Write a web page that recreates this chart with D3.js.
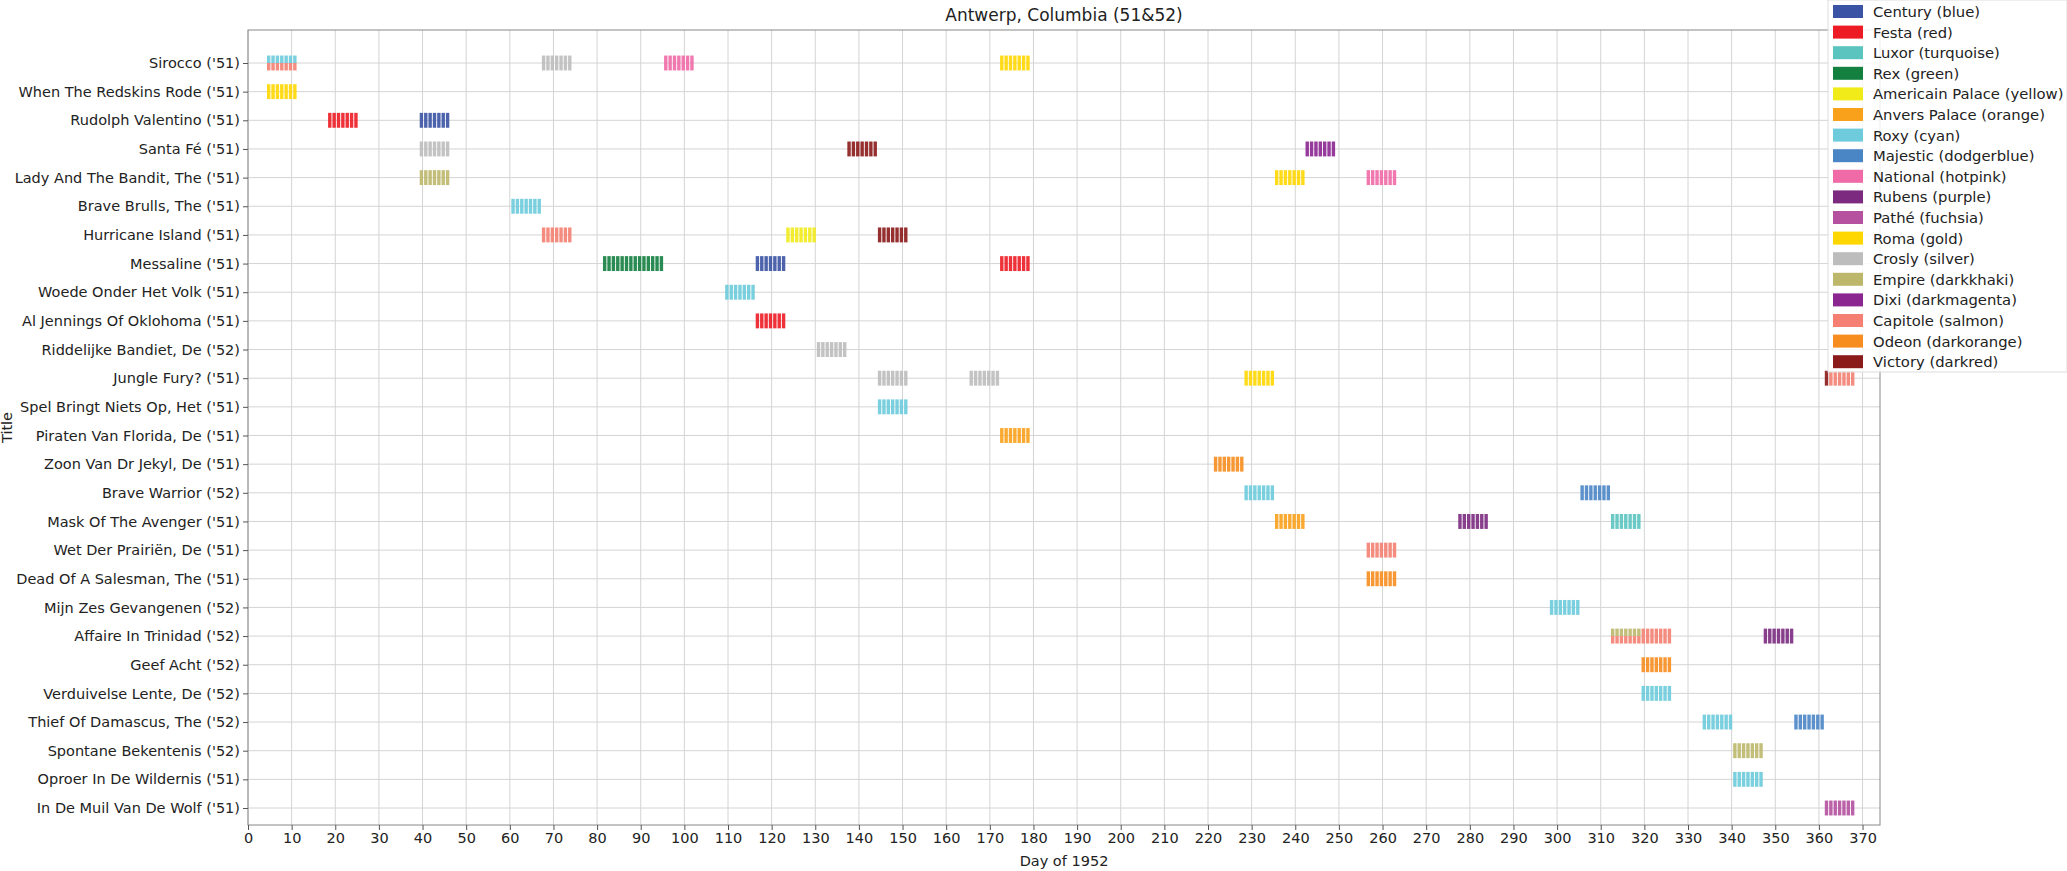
<!DOCTYPE html>
<html>
<head>
<meta charset="utf-8">
<script src="https://cdn.jsdelivr.net/npm/d3@7"></script>
<style>
  body { margin: 0; background: #fff; }
  text { font-family: "DejaVu Sans", sans-serif; }
</style>
</head>
<body>
<svg id="chart" width="2067" height="871"></svg>
<script>
// Cinemas in legend order
const cinemas = ["Century", "Festa", "Luxor", "Rex", "Americain Palace", "Anvers Palace", "Roxy",
  "Majestic", "National", "Rubens", "Pathé", "Roma", "Crosly", "Empire", "Dixi", "Capitole", "Odeon", "Victory"];
const colorNames = ["blue", "red", "turquoise", "green", "yellow", "orange", "cyan", "dodgerblue", "hotpink",
  "purple", "fuchsia", "gold", "silver", "darkkhaki", "darkmagenta", "salmon", "darkorange", "darkred"];
const colors = ["#3a53a4", "#ed1c24", "#5bc4bf", "#138040", "#f2eb1a", "#f9a11b", "#6dcbdc", "#4a85c6", "#ef6aa6",
  "#7b2a7f", "#b5519e", "#ffd700", "#bdbdbd", "#bdb76b", "#8b2590", "#f47f72", "#f78d1e", "#8b1a1a"];

const titles = ["Sirocco ('51)", "When The Redskins Rode ('51)", "Rudolph Valentino ('51)", "Santa Fé ('51)",
  "Lady And The Bandit, The ('51)", "Brave Brulls, The ('51)", "Hurricane Island ('51)", "Messaline ('51)",
  "Woede Onder Het Volk ('51)", "Al Jennings Of Oklohoma ('51)", "Riddelijke Bandiet, De ('52)",
  "Jungle Fury? ('51)", "Spel Bringt Niets Op, Het ('51)", "Piraten Van Florida, De ('51)",
  "Zoon Van Dr Jekyl, De ('51)", "Brave Warrior ('52)", "Mask Of The Avenger ('51)", "Wet Der Prairiën, De ('51)",
  "Dead Of A Salesman, The ('51)", "Mijn Zes Gevangenen ('52)", "Affaire In Trinidad ('52)", "Geef Acht ('52)",
  "Verduivelse Lente, De ('52)", "Thief Of Damascus, The ('52)", "Spontane Bekentenis ('52)",
  "Oproer In De Wildernis ('51)", "In De Muil Van De Wolf ('51)"];

// [title index, cinema, first day, number of days]
const screenings = [
  [0, "Roxy", 4, 7], [0, "Capitole", 4, 7], [0, "Crosly", 67, 7], [0, "National", 95, 7], [0, "Roma", 172, 7],
  [1, "Roma", 4, 7],
  [2, "Festa", 18, 7], [2, "Century", 39, 7],
  [3, "Crosly", 39, 7], [3, "Victory", 137, 7], [3, "Dixi", 242, 7],
  [4, "Empire", 39, 7], [4, "Roma", 235, 7], [4, "National", 256, 7],
  [5, "Roxy", 60, 7],
  [6, "Capitole", 67, 7], [6, "Americain Palace", 123, 7], [6, "Victory", 144, 7],
  [7, "Rex", 81, 14], [7, "Century", 116, 7], [7, "Festa", 172, 7],
  [8, "Roxy", 109, 7],
  [9, "Festa", 116, 7],
  [10, "Crosly", 130, 7],
  [11, "Crosly", 144, 7], [11, "Crosly", 165, 7], [11, "Roma", 228, 7], [11, "Victory", 361, 1], [11, "Capitole", 362, 6],
  [12, "Roxy", 144, 7],
  [13, "Anvers Palace", 172, 7],
  [14, "Odeon", 221, 7],
  [15, "Roxy", 228, 7], [15, "Majestic", 305, 7],
  [16, "Anvers Palace", 235, 7], [16, "Rubens", 277, 7], [16, "Luxor", 312, 7],
  [17, "Capitole", 256, 7],
  [18, "Odeon", 256, 7],
  [19, "Roxy", 298, 7],
  [20, "Empire", 312, 7], [20, "Capitole", 312, 14], [20, "Rubens", 347, 7],
  [21, "Odeon", 319, 7],
  [22, "Roxy", 319, 7],
  [23, "Roxy", 333, 7], [23, "Majestic", 354, 7],
  [24, "Empire", 340, 7],
  [25, "Roxy", 340, 7],
  [26, "Pathé", 361, 7]
];
const xTicks = d3.range(0, 371, 10);

const svg = d3.select("#chart");
const mLeft = 248, mRight = 1880, mTop = 30, mBottom = 825;
const x = d3.scaleLinear().domain([0, 374]).range([mLeft, mRight]);
const y = d3.scalePoint().domain(d3.range(titles.length)).range([63, 808]);
const step = y.step();
const barH = step * 0.52;

// grid
svg.append("g").selectAll("line").data(xTicks).join("line")
  .attr("x1", d => x(d)).attr("x2", d => x(d)).attr("y1", mTop).attr("y2", mBottom)
  .attr("stroke", "#d4d4d4").attr("stroke-width", 1);
svg.append("g").selectAll("line").data(d3.range(titles.length)).join("line")
  .attr("x1", mLeft).attr("x2", mRight).attr("y1", d => y(d)).attr("y2", d => y(d))
  .attr("stroke", "#d4d4d4").attr("stroke-width", 1);

// expand screenings into days; split height when cinemas overlap on a day
const byCell = d3.group(screenings.flatMap(([t, c, s, n]) => d3.range(n).map(k => ({ t, c, d: s + k }))),
  d => d.t + "|" + d.d);
const bars = [];
byCell.forEach(list => {
  list.sort((a, b) => cinemas.indexOf(a.c) - cinemas.indexOf(b.c));
  list.forEach((b, i) => bars.push({ ...b, i, n: list.length }));
});
svg.append("g").selectAll("rect").data(bars).join("rect")
  .attr("x", d => x(d.d + 0.35))
  .attr("width", x(0.78) - x(0))
  .attr("y", d => y(d.t) - barH / 2 + d.i * barH / d.n)
  .attr("height", d => barH / d.n)
  .attr("fill", d => colors[cinemas.indexOf(d.c)])
  .attr("opacity", 0.9);

// frame
svg.append("rect").attr("x", mLeft).attr("y", mTop).attr("width", mRight - mLeft).attr("height", mBottom - mTop)
  .attr("fill", "none").attr("stroke", "#888").attr("stroke-width", 1);

// axes
const xa = svg.append("g").attr("transform", `translate(0,${mBottom})`)
  .call(d3.axisBottom(x).tickValues(xTicks).tickSize(5).tickFormat(d3.format("d")));
xa.select(".domain").remove();
xa.selectAll("text").attr("font-size", 14.5).attr("fill", "#222").attr("font-family", "DejaVu Sans");
xa.selectAll("line").attr("stroke", "#555");
const ya = svg.append("g").attr("transform", `translate(${mLeft},0)`)
  .call(d3.axisLeft(y).tickSize(5).tickFormat(i => titles[i]));
ya.select(".domain").remove();
ya.selectAll("text").attr("font-size", 14.5).attr("fill", "#222").attr("font-family", "DejaVu Sans");
ya.selectAll("line").attr("stroke", "#555");

svg.append("text").attr("x", (mLeft + mRight) / 2).attr("y", 21).attr("text-anchor", "middle")
  .attr("font-size", 17).attr("fill", "#222").text("Antwerp, Columbia (51&52)");
svg.append("text").attr("x", (mLeft + mRight) / 2).attr("y", 866).attr("text-anchor", "middle")
  .attr("font-size", 14.5).attr("fill", "#222").text("Day of 1952");
svg.append("text").attr("transform", `translate(12,${(mTop + mBottom) / 2}) rotate(-90)`)
  .attr("text-anchor", "middle").attr("font-size", 14.5).attr("fill", "#222").text("Title");

// legend
const lg = svg.append("g");
lg.append("rect").attr("x", 1828).attr("y", 0).attr("width", 239).attr("height", 372)
  .attr("fill", "#fff").attr("fill-opacity", 0.85).attr("stroke", "#ddd");
const item = lg.selectAll("g.it").data(cinemas).join("g").attr("class", "it")
  .attr("transform", (d, i) => `translate(1833,${5 + i * 20.6})`);
item.append("rect").attr("width", 30).attr("height", 13).attr("fill", (d, i) => colors[i]);
item.append("text").attr("x", 40).attr("y", 12).attr("font-size", 14.8).attr("fill", "#222")
  .text((d, i) => `${d} (${colorNames[i]})`);
</script>
</body>
</html>
